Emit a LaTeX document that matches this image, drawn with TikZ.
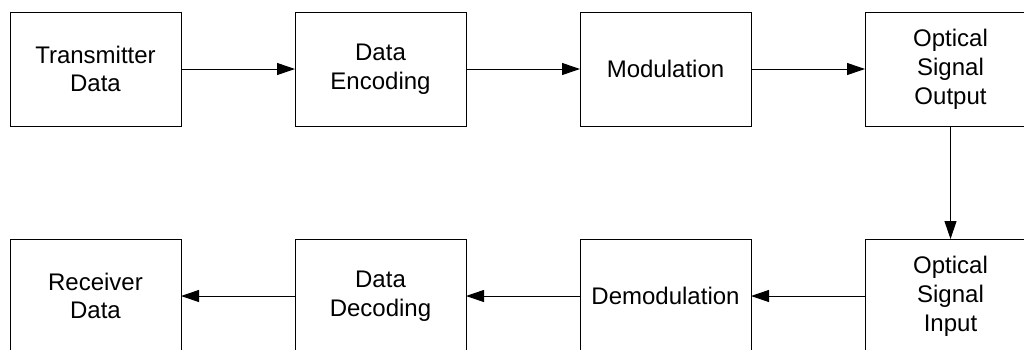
\documentclass[tikz,border=0pt]{standalone}
\usepackage{fontspec}
\setmainfont{Liberation Sans}
\usetikzlibrary{arrows.meta}
\begin{document}
\begin{tikzpicture}[x=1pt,y=-1pt,
  blk/.style={draw=black, line width=1pt, rectangle, minimum width=171pt, minimum height=114pt,
    inner sep=0pt, outer sep=0pt, align=center, font=\fontsize{24}{28.8}\selectfont},
  conn/.style={line width=1pt, -{Triangle[length=18pt,width=12pt]}}]
\useasboundingbox (0,0) rectangle (1024,349);
\clip (0,0) rectangle (1024,349);
\node[blk] (tx) at (95.5,69) {Transmitter\\Data};
\node[blk] (enc) at (380.5,69) {Data\\Encoding};
\node[blk] (mod) at (665.5,69) {Modulation};
\node[blk] (out) at (950.5,69) {Optical\\Signal\\Output};
\node[blk] (rx) at (95.5,296) {Receiver\\Data};
\node[blk] (dec) at (380.5,296) {Data\\Decoding};
\node[blk] (dem) at (665.5,296) {Demodulation};
\node[blk] (in) at (950.5,296) {Optical\\Signal\\Input};
\draw[conn] (tx) -- (enc);
\draw[conn] (enc) -- (mod);
\draw[conn] (mod) -- (out);
\draw[conn] (out) -- (in);
\draw[conn] (in) -- (dem);
\draw[conn] (dem) -- (dec);
\draw[conn] (dec) -- (rx);
\end{tikzpicture}
\end{document}
